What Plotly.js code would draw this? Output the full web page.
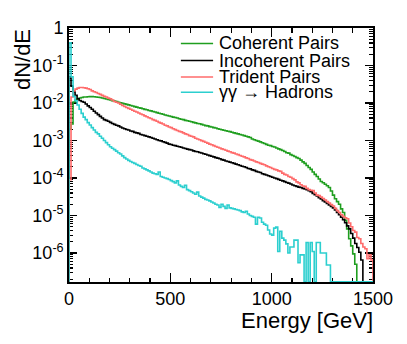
<!DOCTYPE html>
<html>
<head>
<meta charset="utf-8">
<script src="https://cdn.plot.ly/plotly-3.0.1.min.js"></script>
<style>
  body { margin: 0; background: #fff; }
  #graph { width: 407px; height: 344px; }
</style>
</head>
<body>
<div id="graph"></div>
<script>
// histograms, 150 bins of 10 GeV from 0 to 1500 GeV
var binWidth = 10;
var eMax = 1500;
var F = 1.72e-7; // empty bin, drawn on the frame bottom like ROOT does

var coherent = [
  2.0e-3, 2.75e-3, 1.06e-2, 1.2e-2, 1.28e-2, 1.36e-2, 1.4e-2, 1.45e-2, 1.45e-2, 1.47e-2,
  1.48e-2, 1.48e-2, 1.47e-2, 1.45e-2, 1.43e-2, 1.4e-2, 1.36e-2, 1.32e-2, 1.28e-2, 1.24e-2,
  1.2e-2, 1.16e-2, 1.12e-2, 1.09e-2, 1.05e-2, 1.02e-2, 9.8e-3, 9.5e-3, 9.2e-3, 8.9e-3,
  8.6e-3, 8.3e-3, 8.0e-3, 7.75e-3, 7.5e-3, 7.3e-3, 7.05e-3, 6.75e-3, 6.6e-3, 6.3e-3,
  6.15e-3, 5.95e-3, 5.75e-3, 5.55e-3, 5.35e-3, 5.15e-3, 5.0e-3, 4.8e-3, 4.65e-3, 4.5e-3,
  4.35e-3, 4.2e-3, 4.1e-3, 4.0e-3, 3.8e-3, 3.7e-3, 3.6e-3, 3.45e-3, 3.35e-3, 3.25e-3,
  3.15e-3, 3.05e-3, 2.95e-3, 2.85e-3, 2.8e-3, 2.7e-3, 2.6e-3, 2.5e-3, 2.45e-3, 2.35e-3,
  2.3e-3, 2.2e-3, 2.15e-3, 2.05e-3, 2.0e-3, 1.93e-3, 1.88e-3, 1.82e-3, 1.76e-3, 1.72e-3,
  1.66e-3, 1.6e-3, 1.55e-3, 1.5e-3, 1.44e-3, 1.4e-3, 1.35e-3, 1.3e-3, 1.25e-3, 1.2e-3,
  1.1e-3, 1.05e-3, 1.0e-3, 9.6e-4, 9.2e-4, 8.7e-4, 8.3e-4, 7.9e-4, 7.5e-4, 7.3e-4,
  6.9e-4, 6.7e-4, 6.3e-4, 6.0e-4, 5.7e-4, 5.4e-4, 5.1e-4, 4.7e-4, 4.6e-4, 4.2e-4,
  4.0e-4, 3.75e-4, 3.5e-4, 3.3e-4, 3.0e-4, 2.7e-4, 2.45e-4, 2.15e-4, 1.9e-4, 1.7e-4,
  1.45e-4, 1.25e-4, 1.1e-4, 9.4e-5, 8.1e-5, 7.5e-5, 6.8e-5, 6.2e-5, 5.6e-5, 4.5e-5,
  3.5e-5, 2.8e-5, 2.35e-5, 2.0e-5, 1.5e-5, 1.2e-5, 7.5e-6, 4.4e-6, 2.4e-6, 1.55e-6,
  9.5e-7, 5e-7, F, F, F, F, F, F, F, F
];

var incoherent = [
  4.6e-2, 2.8e-2, 2.0e-2, 1.6e-2, 1.3e-2, 1.17e-2, 1.1e-2, 1.05e-2, 9.4e-3, 8.4e-3,
  7.6e-3, 6.8e-3, 6.0e-3, 5.4e-3, 4.9e-3, 4.4e-3, 4.0e-3, 3.6e-3, 3.45e-3, 3.25e-3,
  3.05e-3, 2.85e-3, 2.7e-3, 2.55e-3, 2.45e-3, 2.3e-3, 2.15e-3, 2.05e-3, 1.97e-3, 1.9e-3,
  1.8e-3, 1.75e-3, 1.65e-3, 1.6e-3, 1.55e-3, 1.45e-3, 1.4e-3, 1.35e-3, 1.3e-3, 1.25e-3,
  1.2e-3, 1.15e-3, 1.1e-3, 1.05e-3, 1.0e-3, 9.8e-4, 9.3e-4, 8.9e-4, 8.5e-4, 8.0e-4,
  7.8e-4, 7.5e-4, 7.3e-4, 7.0e-4, 6.8e-4, 6.6e-4, 6.3e-4, 6.1e-4, 5.9e-4, 5.7e-4,
  5.6e-4, 5.3e-4, 5.1e-4, 5.0e-4, 4.8e-4, 4.65e-4, 4.45e-4, 4.3e-4, 4.1e-4, 3.95e-4,
  3.8e-4, 3.65e-4, 3.5e-4, 3.4e-4, 3.25e-4, 3.1e-4, 3.0e-4, 2.85e-4, 2.75e-4, 2.65e-4,
  2.55e-4, 2.45e-4, 2.35e-4, 2.25e-4, 2.15e-4, 2.05e-4, 2.0e-4, 1.9e-4, 1.8e-4, 1.75e-4,
  1.65e-4, 1.6e-4, 1.5e-4, 1.45e-4, 1.4e-4, 1.3e-4, 1.25e-4, 1.2e-4, 1.15e-4, 1.1e-4,
  1.05e-4, 1.0e-4, 9.6e-5, 9.2e-5, 8.7e-5, 8.4e-5, 8.0e-5, 7.6e-5, 7.3e-5, 6.9e-5,
  6.5e-5, 6.2e-5, 6.0e-5, 5.7e-5, 5.6e-5, 5.3e-5, 5.1e-5, 4.9e-5, 4.6e-5, 4.3e-5,
  3.9e-5, 3.6e-5, 3.3e-5, 3.0e-5, 2.75e-5, 2.5e-5, 2.3e-5, 2.1e-5, 1.9e-5, 1.75e-5,
  1.6e-5, 1.4e-5, 1.2e-5, 1.05e-5, 9.0e-6, 7.7e-6, 6.4e-6, 5.3e-6, 4.4e-6, 3.3e-6,
  2.5e-6, 1.8e-6, 1.4e-6, 1.05e-6, 6.5e-7, F, F, F, F, F
];

var trident = [
  9e-5, 1.45e-2, 2.1e-2, 2.35e-2, 2.5e-2, 2.6e-2, 2.6e-2, 2.55e-2, 2.5e-2, 2.4e-2,
  2.3e-2, 2.1e-2, 2.0e-2, 1.9e-2, 1.8e-2, 1.7e-2, 1.6e-2, 1.5e-2, 1.45e-2, 1.35e-2,
  1.3e-2, 1.2e-2, 1.1e-2, 1.05e-2, 1.0e-2, 9.3e-3, 8.6e-3, 8.1e-3, 7.6e-3, 7.2e-3,
  6.8e-3, 6.4e-3, 6.0e-3, 5.75e-3, 5.4e-3, 5.1e-3, 4.85e-3, 4.55e-3, 4.3e-3, 4.05e-3,
  3.85e-3, 3.6e-3, 3.45e-3, 3.25e-3, 3.05e-3, 2.9e-3, 2.75e-3, 2.55e-3, 2.45e-3, 2.3e-3,
  2.2e-3, 2.05e-3, 1.95e-3, 1.85e-3, 1.75e-3, 1.7e-3, 1.6e-3, 1.5e-3, 1.45e-3, 1.35e-3,
  1.3e-3, 1.25e-3, 1.15e-3, 1.1e-3, 1.05e-3, 9.9e-4, 9.5e-4, 9.0e-4, 8.5e-4, 8.0e-4,
  7.7e-4, 7.3e-4, 6.9e-4, 6.6e-4, 6.3e-4, 6.0e-4, 5.75e-4, 5.5e-4, 5.2e-4, 5.0e-4,
  4.75e-4, 4.6e-4, 4.35e-4, 4.2e-4, 4.0e-4, 3.8e-4, 3.65e-4, 3.45e-4, 3.3e-4, 3.1e-4,
  3.0e-4, 2.85e-4, 2.7e-4, 2.6e-4, 2.45e-4, 2.35e-4, 2.25e-4, 2.1e-4, 2.0e-4, 1.9e-4,
  1.8e-4, 1.7e-4, 1.65e-4, 1.55e-4, 1.5e-4, 1.35e-4, 1.25e-4, 1.2e-4, 1.1e-4, 1.05e-4,
  9.6e-5, 8.9e-5, 7.9e-5, 7.4e-5, 6.6e-5, 6.1e-5, 6.0e-5, 5.3e-5, 4.9e-5, 4.7e-5,
  4.6e-5, 4.0e-5, 3.5e-5, 3.4e-5, 3.1e-5, 2.85e-5, 2.6e-5, 2.35e-5, 2.15e-5, 1.95e-5,
  1.8e-5, 1.55e-5, 1.35e-5, 1.2e-5, 1.05e-5, 9.5e-6, 8.7e-6, 8.2e-6, 6.3e-6, 5.0e-6,
  4.0e-6, 3.6e-6, 2.6e-6, 2.4e-6, 1.8e-6, 1.45e-6, 1.3e-6, 7e-7, 9e-7, 6.5e-7
];

var hadrons = [
  0.4, 5e-2, 1.5e-2, 1.15e-2, 8.85e-3, 6.8e-3, 5.3e-3, 4.2e-3, 3.6e-3, 3.0e-3,
  2.6e-3, 2.2e-3, 1.9e-3, 1.65e-3, 1.5e-3, 1.3e-3, 1.15e-3, 1.0e-3, 8.8e-4, 7.7e-4,
  6.8e-4, 6.2e-4, 5.7e-4, 5.2e-4, 4.7e-4, 4.35e-4, 3.9e-4, 3.5e-4, 3.2e-4, 2.95e-4,
  2.75e-4, 2.6e-4, 2.45e-4, 2.3e-4, 2.15e-4, 2.05e-4, 1.85e-4, 1.75e-4, 1.65e-4, 1.55e-4,
  1.45e-4, 1.35e-4, 1.3e-4, 1.25e-4, 1.45e-4, 1.1e-4, 1.05e-4, 1.0e-4, 9.6e-5, 9.1e-5,
  8.5e-5, 8.0e-5, 7.4e-5, 8.4e-5, 6.5e-5, 6.0e-5, 5.6e-5, 6.4e-5, 4.9e-5, 4.6e-5,
  4.3e-5, 4.0e-5, 3.7e-5, 4.2e-5, 3.3e-5, 3.1e-5, 2.9e-5, 2.7e-5, 2.6e-5, 2.45e-5,
  2.3e-5, 2.15e-5, 2.0e-5, 1.9e-5, 1.65e-5, 2.0e-5, 1.75e-5, 1.55e-5, 1.9e-5, 1.6e-5,
  1.55e-5, 1.5e-5, 1.45e-5, 1.4e-5, 1.35e-5, 1.25e-5, 1.2e-5, 1.3e-5, 1.1e-5, 1.0e-5,
  9.5e-6, 9.0e-6, 5.9e-6, 9.0e-6, 8.6e-6, 6.6e-6, 5.9e-6, 5.5e-6, 4.1e-6, 3.2e-6,
  3.0e-6, 4.6e-6, 4.9e-6, 1.1e-6, 3.8e-6, 2.5e-6, 2.2e-6, 1.75e-6, 1.0e-6, 1.45e-6,
  1.45e-6, 2.2e-6, 2.2e-6, 5.5e-7, 8.9e-7, 8.9e-7, F, 1.9e-6, F, 1.9e-6,
  1.1e-6, F, 1.9e-6, 1.9e-6, 1.0e-6, 1.0e-6, 1.0e-6, 4.8e-7, 4.8e-7, F,
  F, F, F, F, F, F, F, F, F, F,
  F, F, F, F, F, F, F, F, F, F
];

var seriesNames = ['Coherent Pairs', 'Incoherent Pairs', 'Trident Pairs', '\u03b3\u03b3 \u2192 Hadrons'];
var seriesColors = ['#1f9e1f', '#000000', '#ff6b6b', '#2ccfcf'];
var seriesValues = [coherent, incoherent, trident, hadrons];

var xTicks = [0, 500, 1000, 1500];
var xTickText = ['0', '500', '1000', '1500'];
var yTicks = [1, 1e-1, 1e-2, 1e-3, 1e-4, 1e-5, 1e-6];
var yTickText = ['1', '10<sup>-1</sup>', '10<sup>-2</sup>', '10<sup>-3</sup>',
                 '10<sup>-4</sup>', '10<sup>-5</sup>', '10<sup>-6</sup>'];

// ROOT style: a step line that starts and ends on the frame bottom
function histTrace(vals, color, name) {
  var x = [0], y = [F];
  for (var i = 0; i < vals.length; i++) {
    x.push(i * binWidth);
    y.push(vals[i]);
  }
  x.push(eMax);
  y.push(F);
  return {
    x: x, y: y, name: name,
    type: 'scatter', mode: 'lines',
    line: {shape: 'hv', color: color, width: 1.6},
    showlegend: false, hoverinfo: 'skip'
  };
}

var data = [];
for (var s = 0; s < seriesValues.length; s++) {
  data.push(histTrace(seriesValues[s], seriesColors[s], seriesNames[s]));
}

var xMinor = [];
for (var e = 100; e < eMax; e += 100) { if (e % 500) xMinor.push(e); }
var yMinor = [];
for (var p = -7; p < 0; p++) {
  for (var m = 2; m <= 9; m++) yMinor.push(m * Math.pow(10, p));
}

var font = 'Liberation Sans, Arial, Helvetica, sans-serif';

// hand-made legend (ROOT TLegend look: tight rows)
var legY = [0.939, 0.872, 0.807, 0.747];
var annotations = [], shapes = [];
for (var k = 0; k < seriesNames.length; k++) {
  shapes.push({
    type: 'line', xref: 'paper', yref: 'paper',
    x0: 0.368, x1: 0.474, y0: legY[k], y1: legY[k],
    line: {color: seriesColors[k], width: 1.6}
  });
  annotations.push({
    xref: 'paper', yref: 'paper', x: 0.488, y: legY[k],
    xanchor: 'left', yanchor: 'middle', showarrow: false,
    text: seriesNames[k], font: {family: font, size: 18, color: '#000'}
  });
}
annotations.push({
  xref: 'paper', yref: 'paper', x: 1.005, y: -0.15,
  xanchor: 'right', yanchor: 'middle', showarrow: false,
  text: 'Energy [GeV]', font: {family: font, size: 22, color: '#000'}
});
annotations.push({
  xref: 'paper', yref: 'paper', x: -0.155, y: 1.005,
  xanchor: 'center', yanchor: 'top', showarrow: false, textangle: -90,
  text: 'dN/dE', font: {family: font, size: 22, color: '#000'}
});

var layout = {
  width: 407, height: 344,
  margin: {l: 69, r: 34, t: 28, b: 62},
  paper_bgcolor: '#fff', plot_bgcolor: '#fff',
  showlegend: false,
  font: {family: font, size: 18, color: '#000'},
  xaxis: {
    range: [0, eMax], tickmode: 'array', tickvals: xTicks, ticktext: xTickText,
    ticks: 'inside', ticklen: 9, tickwidth: 1.2, tickcolor: '#000',
    showline: true, linecolor: '#000', linewidth: 1.8, mirror: 'allticks',
    showgrid: false, zeroline: false, layer: 'below traces',
    minor: {tickmode: 'array', tickvals: xMinor, ticks: 'inside', ticklen: 4.5, tickwidth: 1.2, tickcolor: '#000', showgrid: false},
    tickfont: {family: font, size: 18, color: '#000'}
  },
  yaxis: {
    type: 'log', range: [-6.773, 0], tickmode: 'array', tickvals: yTicks, ticktext: yTickText,
    ticks: 'inside', ticklen: 8, tickwidth: 1.2, tickcolor: '#000',
    showline: true, linecolor: '#000', linewidth: 1.8, mirror: 'allticks',
    showgrid: false, zeroline: false, layer: 'below traces',
    minor: {tickmode: 'array', tickvals: yMinor, ticks: 'inside', ticklen: 4, tickwidth: 1.2, tickcolor: '#000', showgrid: false},
    tickfont: {family: font, size: 18, color: '#000'}
  },
  annotations: annotations,
  shapes: shapes
};

Plotly.newPlot('graph', data, layout, {displayModeBar: false, staticPlot: true});
</script>
</body>
</html>
